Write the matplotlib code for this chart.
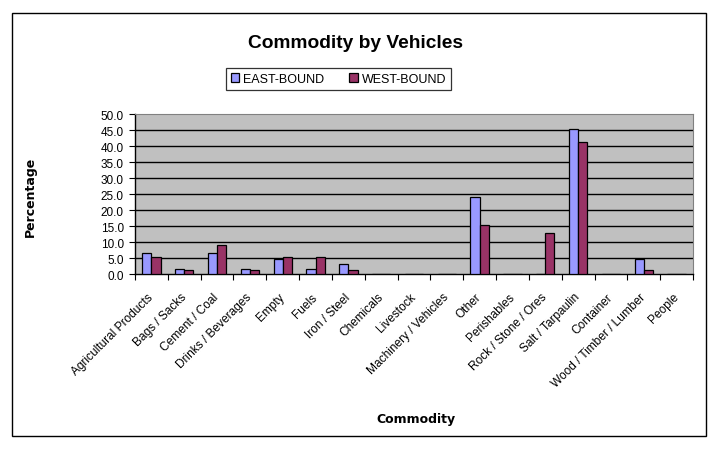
import numpy as np
import matplotlib
matplotlib.use("Agg")
import matplotlib.pyplot as plt
import matplotlib.transforms as mtransforms
from matplotlib.patches import Rectangle

categories = ["Agricultural Products", "Bags / Sacks", "Cement / Coal", "Drinks / Beverages",
              "Empty", "Fuels", "Iron / Steel", "Chemicals", "Livestock", "Machinery / Vehicles",
              "Other", "Perishables", "Rock / Stone / Ores", "Salt / Tarpaulin", "Container",
              "Wood / Timber / Lumber", "People"]
east_bound = [6.5, 1.5, 6.5, 1.5, 4.7, 1.5, 3.1, 0, 0, 0, 24.0, 0, 0, 45.3, 0, 4.7, 0]
west_bound = [5.2, 1.2, 9.1, 1.2, 5.2, 5.2, 1.2, 0, 0, 0, 15.5, 0, 13.0, 41.5, 0, 1.2, 0]
yticks = [0, 5, 10, 15, 20, 25, 30, 35, 40, 45, 50]

plt.rcParams['font.family'] = ['Liberation Sans', 'DejaVu Sans']

fig = plt.figure(figsize=(7.26, 4.6), dpi=100)
fig.patch.set_facecolor('white')

# outer chart border
fig.patches.append(Rectangle((0.017, 0.051), 0.956, 0.918, transform=fig.transFigure,
                             fill=False, edgecolor='black', linewidth=1.0))

ax = fig.add_axes([0.186, 0.402, 0.7685, 0.347])
ax.set_facecolor('#C0C0C0')

x = np.arange(len(categories))
w = 0.28
ax.bar(x - w / 2, east_bound, w, color='#9999FF', edgecolor='black', linewidth=0.9,
       label='EAST-BOUND', zorder=3)
ax.bar(x + w / 2, west_bound, w, color='#993366', edgecolor='black', linewidth=0.9,
       label='WEST-BOUND', zorder=3)

ax.set_xlim(-0.5, len(categories) - 0.5)
ax.set_ylim(0, 50)
ax.hlines(yticks[1:-1], -0.5, len(categories) - 0.5, colors='black', linewidth=1.0, zorder=1)

ax.set_yticks(yticks)
ax.set_yticklabels([f"{v:.1f}" for v in yticks], fontsize=8.5)
ax.set_xticks(x)
ax.set_xticklabels(categories, fontsize=8.6, rotation=45, ha='right', va='center',
                   rotation_mode='anchor')
shift = mtransforms.ScaledTranslation(-4 / 100, 0, fig.dpi_scale_trans)
for lbl in ax.get_xticklabels():
    lbl.set_transform(lbl.get_transform() + shift)
ax.set_xticks(np.arange(len(categories) + 1) - 0.5, minor=True)
ax.tick_params(axis='x', which='major', length=0, pad=15)
ax.tick_params(axis='x', which='minor', length=4, direction='out', width=0.8)
ax.tick_params(axis='y', length=4, direction='out', width=0.8, pad=4)

for side in ['top', 'right']:
    ax.spines[side].set_color('#808080')
    ax.spines[side].set_linewidth(0.8)
for side in ['left', 'bottom']:
    ax.spines[side].set_color('black')
    ax.spines[side].set_linewidth(1.0)

fig.text(0.49, 0.906, 'Commodity by Vehicles', ha='center', va='center',
         fontsize=13.8, fontweight='bold')
fig.text(0.573, 0.089, 'Commodity', ha='center', va='center', fontsize=9,
         fontweight='bold', family='DejaVu Sans')
fig.text(0.042, 0.572, 'Percentage', ha='center', va='center', rotation=90,
         fontsize=9, fontweight='bold', family='DejaVu Sans')

leg = fig.legend(loc='center', bbox_to_anchor=(0.466, 0.827), ncol=2, fontsize=9,
                 frameon=True, fancybox=False, edgecolor='black', handlelength=0.7,
                 handleheight=0.7, handletextpad=0.3, columnspacing=2.0,
                 borderpad=0.4)
leg.get_frame().set_linewidth(0.9)

fig.savefig('out.png', dpi=100)
